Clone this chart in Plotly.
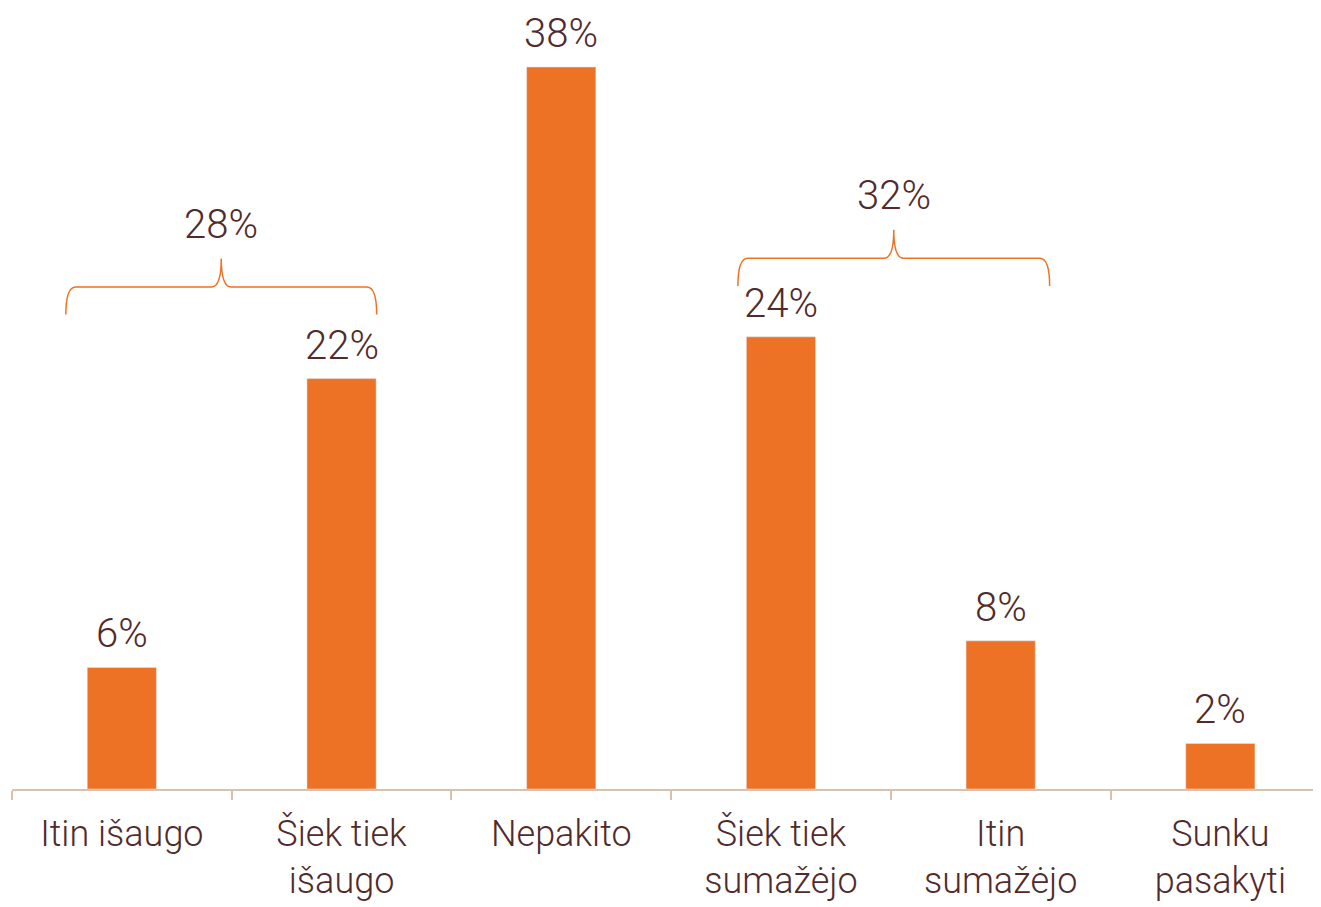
import plotly.graph_objects as go

# categories and values
categories = ["Itin išaugo", "Šiek tiek<br>išaugo", "Nepakito",
              "Šiek tiek<br>sumažėjo", "Itin<br>sumažėjo", "Sunku<br>pasakyti"]
values = [6.4, 21.6, 38.0, 23.8, 7.8, 2.4]

# grouped totals shown with braces: (first index, last index, label)
groups = [(0, 1, "28%"), (3, 4, "32%")]

ORANGE = "#EE7225"
BROWN = "#512B2C"
AXIS = "#D9C1B0"
FONT = "Roboto"
LABEL_FONT = dict(family=FONT, size=40, color=BROWN, weight=300)

fig = go.Figure()
fig.add_trace(go.Bar(x=categories, y=values, marker_color=ORANGE, width=0.315))

# value labels above the bars
for cat, v in zip(categories, values):
    fig.add_annotation(x=cat, y=v, text=f"{v:.0f}%", showarrow=False,
                       yanchor="bottom", yshift=8, font=LABEL_FONT)

# braces above the grouped bars: left/right overhang and lift above the taller bar
brace_style = {(0, 1): (-0.255, 0.16, 3.37), (3, 4): (-0.196, 0.223, 2.68)}
for a, b, label in groups:
    lo, hi, lift = brace_style[(a, b)]
    x0, x1 = a + lo, b + hi
    xm = (x0 + x1) / 2
    yb = max(values[a:b + 1]) + lift
    yh = yb + 1.45
    yp = yh + 1.5
    d = 0.045
    path = (f"M {x0},{yb} Q {x0},{yh} {x0 + d},{yh} L {xm - d},{yh} "
            f"Q {xm},{yh} {xm},{yp} Q {xm},{yh} {xm + d},{yh} "
            f"L {x1 - d},{yh} Q {x1},{yh} {x1},{yb}")
    fig.add_shape(type="path", path=path, xref="x", yref="y",
                  line=dict(color=ORANGE, width=1.5))
    fig.add_annotation(x=xm, y=yp + 1.8, text=label, showarrow=False,
                       font=LABEL_FONT, yanchor="middle")

# page body adds an 8px offset, so the figure is a bit smaller than the window
W, H = 1313, 899
ml, mb = 4, 118
px_per_cat = 219.7
fig.update_layout(
    width=W, height=H,
    margin=dict(l=ml, r=0, t=0, b=mb),
    plot_bgcolor="white", paper_bgcolor="white",
    showlegend=False,
    xaxis=dict(
        type="category", automargin=False,
        range=[-0.5, -0.5 + (W - ml) / px_per_cat],
        showline=True, linecolor=AXIS, linewidth=2,
        ticks="outside", tickson="boundaries", ticklen=9,
        tickcolor=AXIS, tickwidth=2, ticklabelstandoff=12,
        showgrid=False, zeroline=False,
        tickfont=dict(family=FONT, size=36, color=BROWN, weight=300),
    ),
    yaxis=dict(range=[0, (H - mb) / 19.0], visible=False, showgrid=False,
               automargin=False),
)

fig.write_html("out.html")
